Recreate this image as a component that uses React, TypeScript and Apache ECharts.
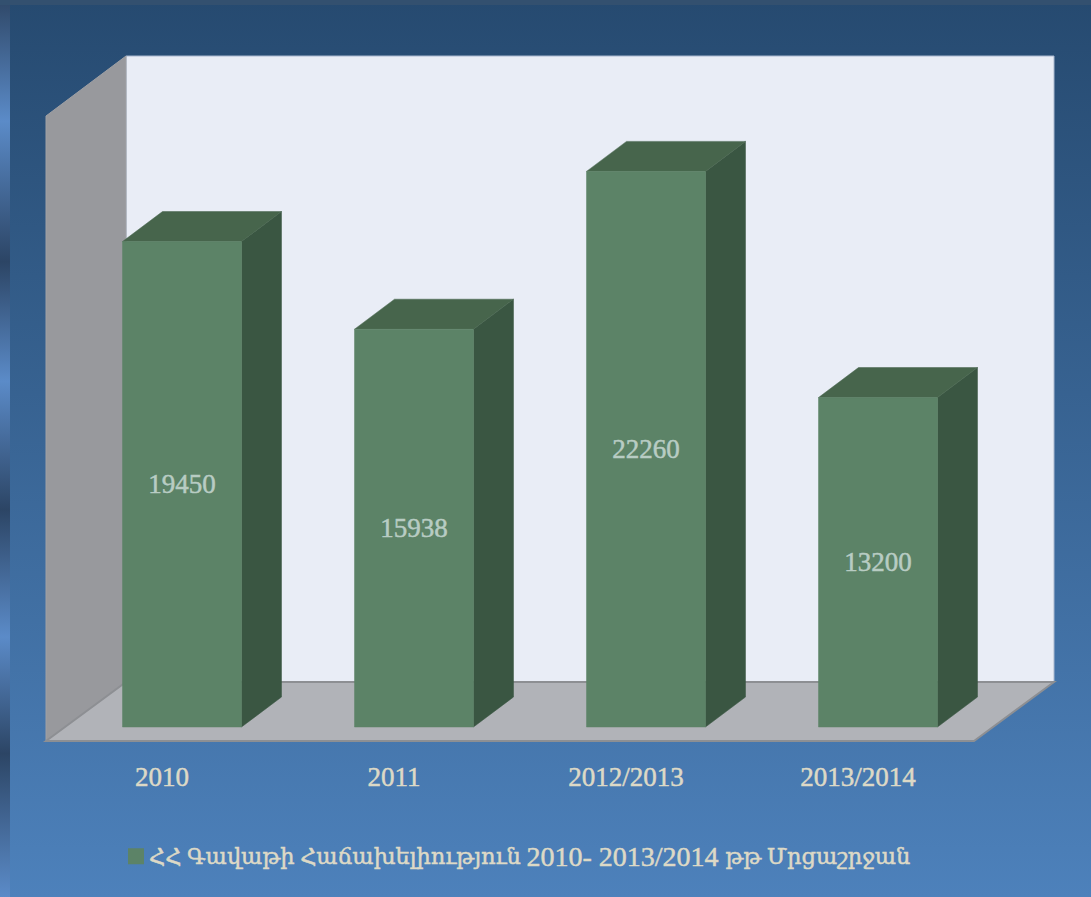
import React, { useEffect, useRef } from "react";
import * as echarts from "echarts";

const categories = ["2010", "2011", "2012/2013", "2013/2014"];
const values = [19450, 15938, 22260, 13200];
const seriesName = "ՀՀ Գավաթի Հաճախելիություն 2010- 2013/2014 թթ Մրցաշրջան";
const legendParts = ["ՀՀ Գավաթի Հաճախելիություն ", "2010- 2013/2014 ", "թթ Մրցաշրջան"];
const FONT = '"Liberation Serif", "DejaVu Serif", serif';

const stripStops: [number, string][] = [
  [0, "#2f4868"],
  [0.135, "#5b8bc8"],
  [0.292, "#2c4565"],
  [0.425, "#5b8bc8"],
  [0.568, "#2c4565"],
  [0.71, "#5b8bc8"],
  [0.84, "#2c4565"],
  [1, "#5b8bc8"],
];

export default function App() {
  const ref = useRef<HTMLDivElement>(null);
  useEffect(() => {
    const chart = echarts.init(ref.current!, undefined, { renderer: "svg" });
    const poly = (points: number[][], fill: string, z = 0, stroke?: string, lineWidth = 1) => ({
      type: "polygon",
      z,
      silent: true,
      shape: { points },
      style: { fill, stroke: stroke ?? fill, lineWidth },
    });
    const legendText = { color: "#ddd9c6", fontFamily: FONT, textBorderColor: "#ddd9c6", textBorderWidth: 0.5 };
    chart.setOption({
      animation: false,
      backgroundColor: {
        type: "linear",
        x: 0,
        y: 0,
        x2: 0,
        y2: 1,
        colorStops: [
          { offset: 0, color: "#264a70" },
          { offset: 1, color: "#4d81bb" },
        ],
      },
      graphic: [
        {
          type: "rect",
          z: 1,
          silent: true,
          shape: { x: 0, y: 0, width: 10, height: 897 },
          style: {
            fill: {
              type: "linear",
              x: 0,
              y: 0,
              x2: 0,
              y2: 1,
              colorStops: stripStops.map(([offset, color]) => ({ offset, color })),
            },
          },
        },
        {
          type: "rect",
          z: 2,
          silent: true,
          shape: { x: 0, y: 0, width: 1091, height: 5 },
          style: { fill: "#33506f" },
        },
        poly([[126, 56], [1054, 56], [1054, 682], [126, 682]], "#e9edf6", 3, "#a9b8cf"),
        poly([[46, 116], [126, 56], [126, 682], [46, 741]], "#98999d", 4, "#a0a1a5"),
        poly([[46, 741], [126, 682], [1054, 682], [974, 741]], "#b1b3b8", 5, "#8d8f93", 2),
      ],
      grid: { left: 46, top: 103, width: 928, height: 624 },
      xAxis: {
        type: "category",
        data: categories,
        axisLine: { show: false },
        axisTick: { show: false },
        axisLabel: {
          margin: 36,
          color: "#ddd9c6",
          fontFamily: FONT,
          fontSize: 27,
          textBorderColor: "#ddd9c6",
          textBorderWidth: 0.5,
        },
      },
      yAxis: { type: "value", min: 0, max: 25000, show: false, splitLine: { show: false } },
      legend: {
        left: 128,
        top: 842,
        itemWidth: 16,
        itemHeight: 16,
        itemGap: 8,
        padding: 0,
        icon: "rect",
        formatter: () => `{a|${legendParts[0]}}{b|${legendParts[1]}}{a|${legendParts[2]}}`,
        textStyle: {
          ...legendText,
          fontSize: 22.5,
          rich: {
            a: { ...legendText, fontSize: 22.5 },
            b: { ...legendText, fontSize: 28 },
          },
        },
        data: [seriesName],
      },
      series: [
        {
          type: "custom",
          name: seriesName,
          z: 10,
          data: values.map((v, i) => [i, v]),
          encode: { x: 0, y: 1 },
          itemStyle: { color: "#5c8367" },
          renderItem: (_p: any, api: any) => {
            const base = api.coord([api.value(0), 0]);
            const top = api.coord([api.value(0), api.value(1)]);
            const w = 119, dx = 40, dy = -30;
            const l = base[0] + 20 - w / 2;
            const r = l + w;
            const t = top[1];
            const b = base[1];
            const shape = (points: number[][], fill: string) => ({
              type: "polygon",
              shape: { points },
              style: { fill, stroke: fill, lineWidth: 0.5 },
            });
            return {
              type: "group",
              children: [
                shape([[r, t], [r + dx, t + dy], [r + dx, b + dy], [r, b]], "#3a5642"),
                shape([[l, t], [l + dx, t + dy], [r + dx, t + dy], [r, t]], "#47654c"),
                shape([[l, t], [r, t], [r, b], [l, b]], "#5c8367"),
                {
                  type: "text",
                  style: {
                    text: String(api.value(1)),
                    x: (l + r) / 2,
                    y: (t + b) / 2,
                    align: "center",
                    verticalAlign: "middle",
                    fill: "#b8ccc3",
                    stroke: "#b8ccc3",
                    lineWidth: 0.5,
                    font: `27px ${FONT}`,
                  },
                },
              ],
            };
          },
        },
      ],
    });
    return () => chart.dispose();
  }, []);
  return <div ref={ref} style={{ position: "absolute", left: 0, top: 0, width: 1091, height: 897 }} />;
}
